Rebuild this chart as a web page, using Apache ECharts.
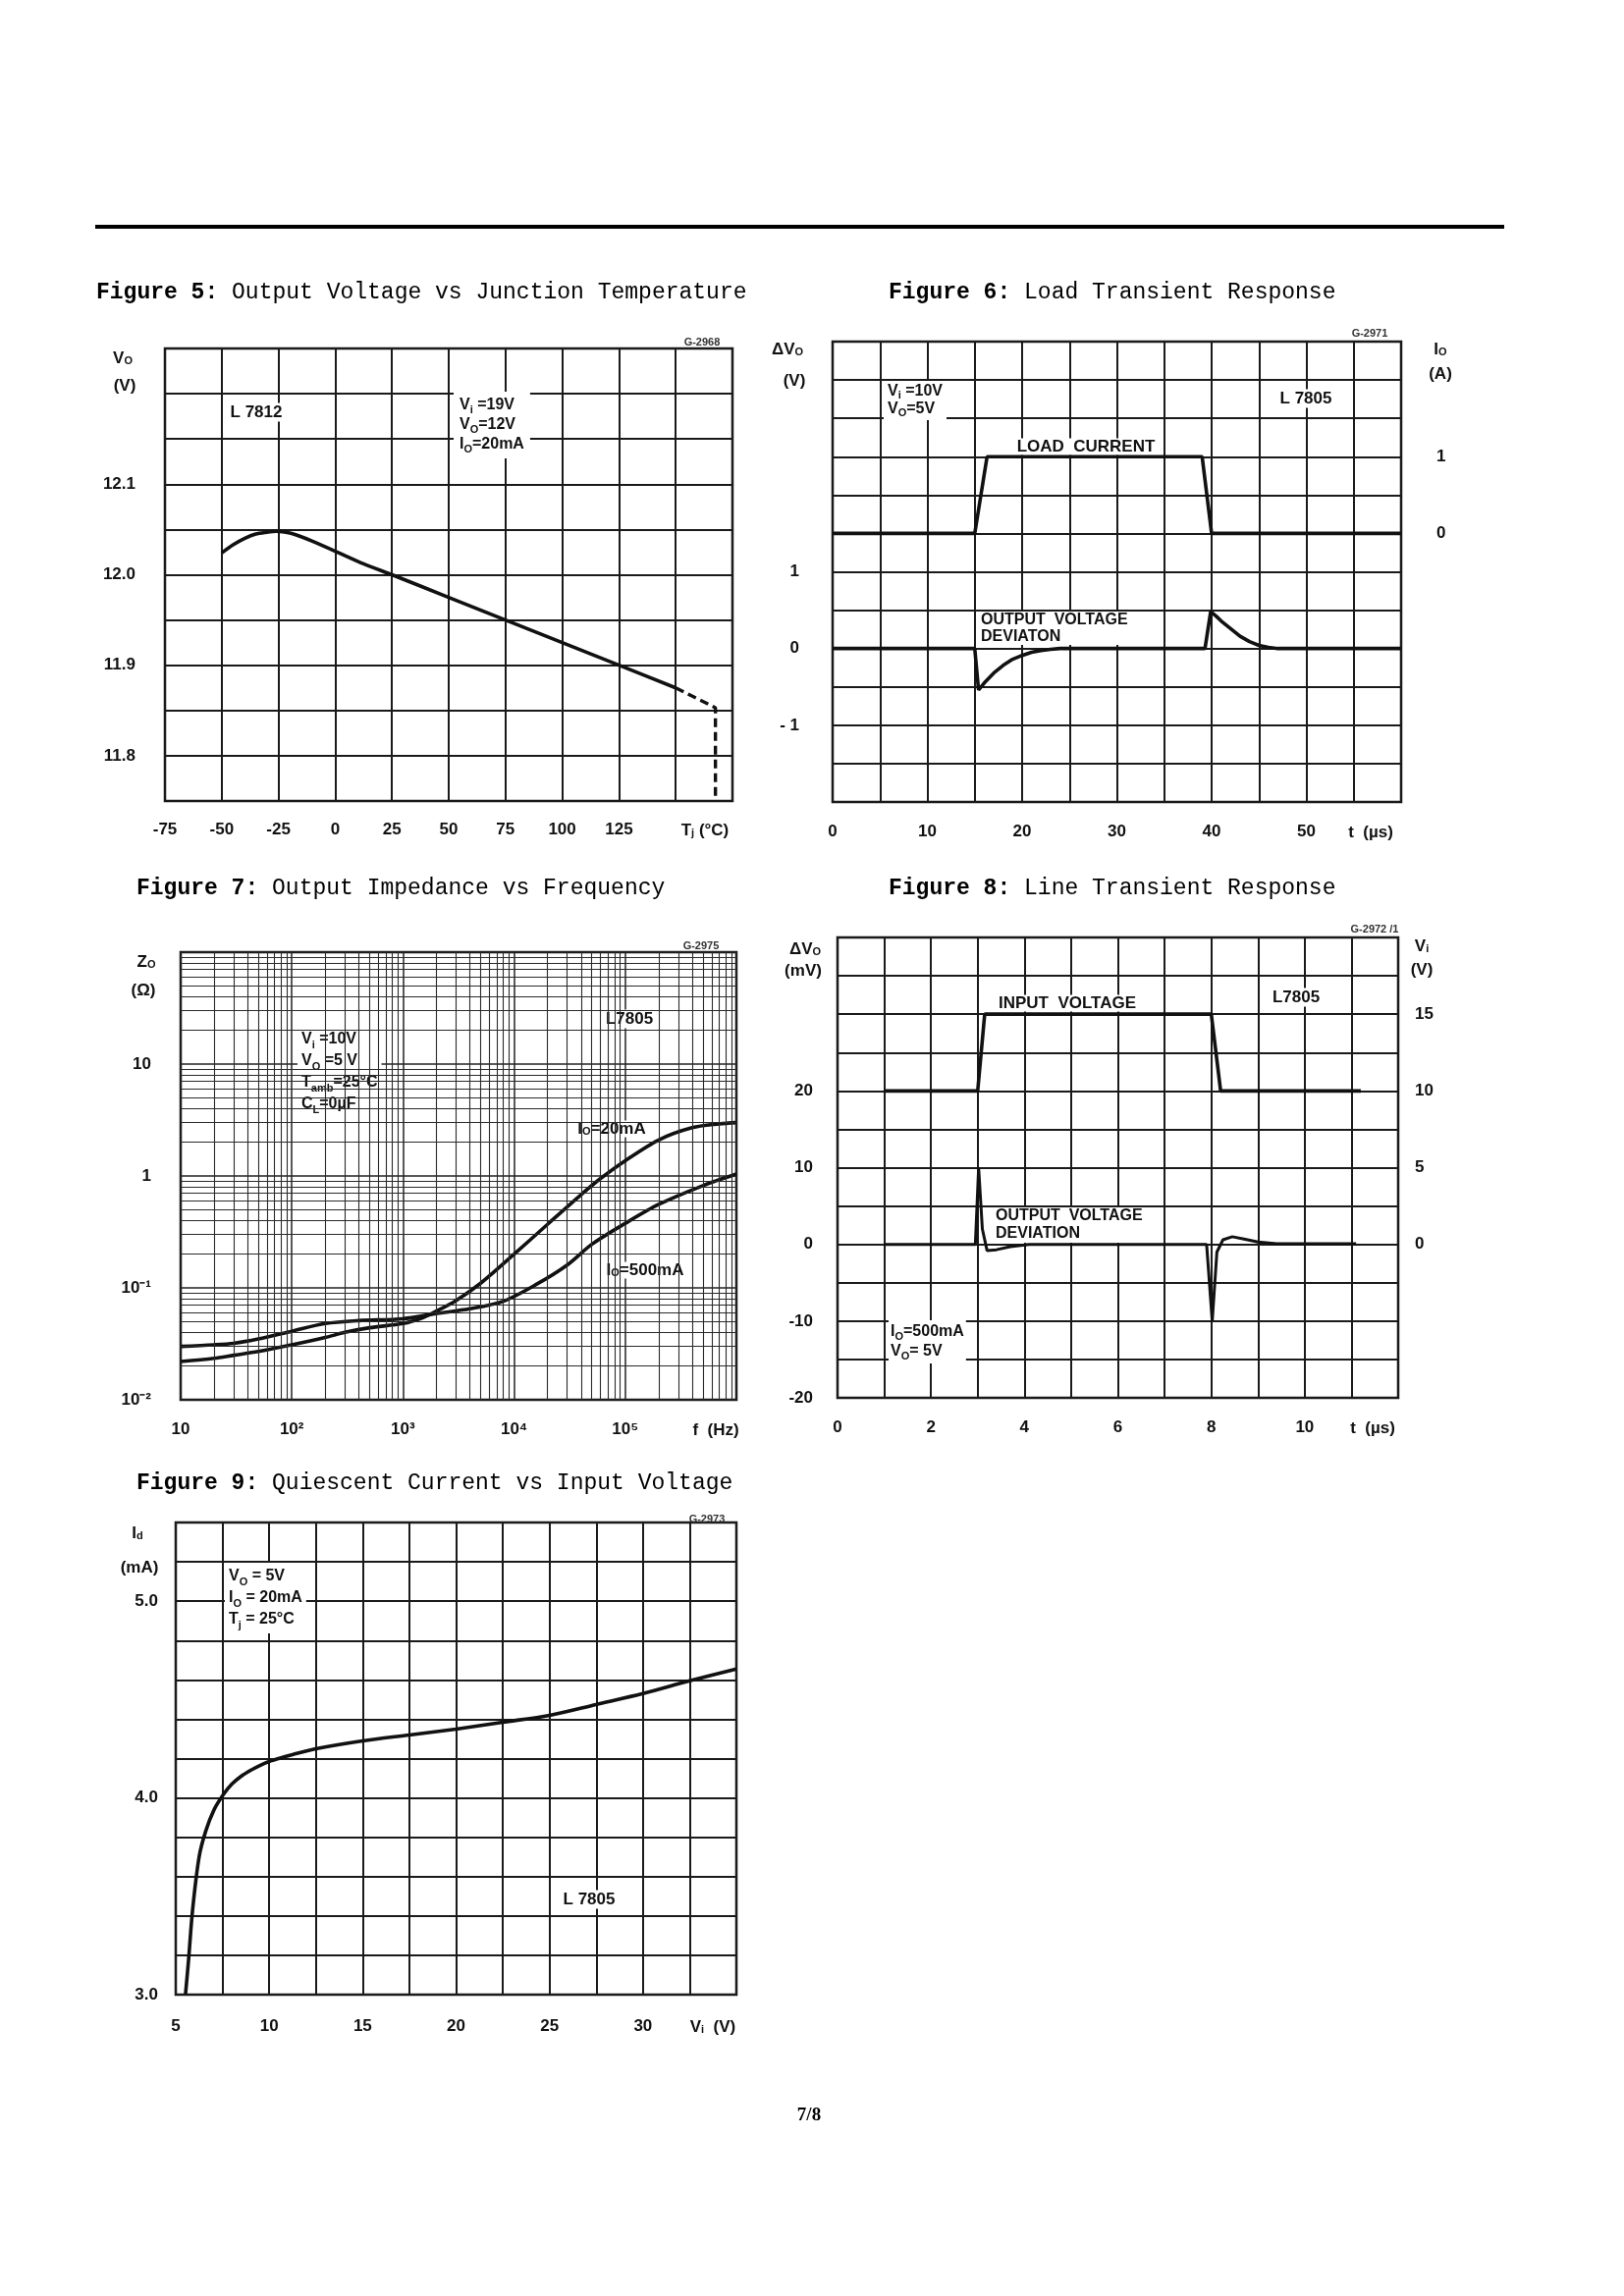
<!DOCTYPE html>
<html><head><meta charset="utf-8">
<script src="https://cdn.jsdelivr.net/npm/echarts@6/dist/echarts.min.js"></script>
<style>html,body{margin:0;padding:0;background:#fff}#c{width:1654px;height:2339px}</style>
</head><body><div id="c"></div>
<script>
// ---------- DATA ----------
// Figure 5: Output Voltage vs Junction Temperature (L7812)
const fig5Temp = [-50, -45, -40, -35, -30, -26, -20, -15, -10, 0, 12.5, 25, 50, 75, 100, 125, 150];
const fig5Vout = [12.024, 12.033, 12.040, 12.045, 12.047, 12.048, 12.046, 12.042, 12.037, 12.026, 12.012, 12.000, 11.975, 11.950, 11.925, 11.900, 11.875];
const fig5DashTemp = [150, 167.5, 167.5];
const fig5DashVout = [11.875, 11.853, 11.75];

// Figure 6: Load Transient Response (L7805)
const fig6CurTime = [0, 15, 16.3, 39, 40, 60];
const fig6Current = [0, 0, 1, 1, 0, 0];
const fig6DevTime = [0, 15, 15.4, 16, 17, 18, 19, 20, 21, 22, 23, 24, 39.3, 39.9, 40.5, 41, 42, 43, 44, 45, 46, 47, 60];
const fig6Dev = [0, 0, -0.54, -0.45, -0.32, -0.22, -0.14, -0.09, -0.05, -0.025, -0.01, 0, 0, 0.48, 0.42, 0.36, 0.26, 0.16, 0.09, 0.04, 0.015, 0, 0];

// Figure 7: Output Impedance vs Frequency
const fig7FreqA = [10, 20, 30, 50, 100, 200, 300, 500, 1000, 1500, 2000, 3000, 5000, 10000, 20000, 40000, 60000, 100000, 200000, 400000, 700000, 1000000];
const fig7Z20mA = [0.022, 0.0235, 0.025, 0.027, 0.031, 0.036, 0.040, 0.044, 0.048, 0.054, 0.062, 0.077, 0.11, 0.20, 0.37, 0.68, 0.95, 1.37, 2.1, 2.7, 2.92, 3.0];
const fig7FreqB = [10, 20, 30, 50, 100, 200, 400, 1000, 2000, 4000, 8000, 16000, 30000, 50000, 100000, 200000, 500000, 1000000];
const fig7Z500mA = [0.030, 0.031, 0.032, 0.035, 0.041, 0.048, 0.051, 0.053, 0.059, 0.065, 0.076, 0.108, 0.16, 0.245, 0.377, 0.557, 0.82, 1.04];

// Figure 8: Line Transient Response (L7805)
const fig8InTime = [1, 3, 3.15, 8, 8.2, 11.2];
const fig8InVolt = [10, 10, 15, 15, 10, 10];
const fig8DevTime = [1, 2.95, 3.02, 3.1, 3.2, 3.4, 3.7, 4.1, 7.9, 8.02, 8.12, 8.25, 8.45, 8.7, 9, 9.4, 11.1];
const fig8Dev = [0, 0, 10, 2, -0.8, -0.7, -0.3, 0, 0, -10, -1, 0.6, 1.0, 0.7, 0.3, 0.1, 0.1];

// Figure 9: Quiescent Current vs Input Voltage (L7805)
const fig9Vin = [5.52, 5.68, 5.9, 6.25, 6.6, 7.05, 7.57, 8.0, 8.5, 9.0, 9.5, 10, 10.5, 11.25, 12.5, 15, 17.5, 20, 22.5, 25, 27.5, 30, 32.5, 35];
const fig9Id = [3.0, 3.17, 3.43, 3.70, 3.83, 3.94, 4.02, 4.07, 4.11, 4.14, 4.165, 4.185, 4.20, 4.22, 4.25, 4.29, 4.32, 4.35, 4.385, 4.42, 4.475, 4.53, 4.595, 4.655];

// ---------- CHART ----------
const pairs = (xs, ys) => xs.map((x, i) => [x, ys[i]]);
const INK = '#111';
const LAB = 'bold 17px "Liberation Sans"';
const LAB16 = 'bold 16px "Liberation Sans"';
const SUB = 'bold 11px "Liberation Sans"';
const SMALL = 'bold 11px "Liberation Sans"';
const TITLE = 'normal 23px "Liberation Mono"';
const TITLEB = 'bold 23px "Liberation Mono"';

function tx(x, y, text, o) {
  return {
    type: 'text', x: x, y: y, z: 2, silent: true,
    style: Object.assign({
      text: text, font: LAB, fill: INK, align: 'center', verticalAlign: 'middle',
      rich: { s: { font: SUB, fill: INK, verticalAlign: 'bottom' } }
    }, o || {})
  };
}
function box(x, y, text, o) {
  return tx(x, y, text, Object.assign({ backgroundColor: '#fff', padding: [1, 3] }, o || {}));
}
function title(x, y, num, rest) {
  return {
    type: 'text', x: x, y: y, z: 2, silent: true,
    style: { text: '{b|Figure ' + num + ':} ' + rest, font: TITLE, fill: '#000', align: 'left', verticalAlign: 'middle',
      rich: { b: { font: TITLEB, fill: '#000' } } }
  };
}

const splitStyle = { show: true, lineStyle: { color: '#1a1a1a', width: 2 } };
function lab(margin, fmt) {
  return { color: INK, fontSize: 17, fontWeight: 'bold', fontFamily: 'Liberation Sans', margin: margin, formatter: fmt };
}
const noLine = { show: false };
const sup = { '-2': '10⁻²', '-1': '10⁻¹', '0': '1', '1': '10', '2': '10²', '3': '10³', '4': '10⁴', '5': '10⁵' };

const gridBase = { show: true, borderColor: INK, borderWidth: 2.5, backgroundColor: 'transparent' };

// log grid lines for figure 7 (minor lines inside each decade)
const minorMarks = [];
[10, 100, 1e3, 1e4, 1e5].forEach(d => { for (let m = 2; m <= 9; m++) minorMarks.push({ xAxis: d * m }); });
[0.01, 0.1, 1, 10].forEach(d => { for (let m = 2; m <= 9; m++) minorMarks.push({ yAxis: d * m }); });

const lineSeries = (xi, yi, data, extra) => Object.assign({
  type: 'line', xAxisIndex: xi, yAxisIndex: yi, data: data, showSymbol: false, symbol: 'none', z: 3,
  lineStyle: { color: INK, width: 3.6 }, animation: false, silent: true
}, extra || {});

const option = {
  backgroundColor: '#fff',
  animation: false,
  textStyle: { fontFamily: 'Liberation Sans' },
  grid: [
    Object.assign({ left: 168, top: 355, width: 578, height: 461 }, gridBase),
    Object.assign({ left: 848, top: 348, width: 579, height: 469 }, gridBase),
    Object.assign({ left: 184, top: 970, width: 566, height: 456 }, gridBase),
    Object.assign({ left: 853, top: 955, width: 571, height: 469 }, gridBase),
    Object.assign({ left: 179, top: 1551, width: 571, height: 481 }, gridBase)
  ],
  xAxis: [
    { gridIndex: 0, type: 'value', min: -75, max: 175, interval: 25, axisLine: noLine, axisTick: noLine, splitLine: splitStyle,
      axisLabel: lab(21, v => (v <= 125 ? String(v) : '')) },
    { gridIndex: 1, type: 'value', min: 0, max: 60, interval: 5, axisLine: noLine, axisTick: noLine, splitLine: splitStyle,
      axisLabel: lab(22, v => (v % 10 === 0 && v <= 50 ? String(v) : '')) },
    { gridIndex: 2, type: 'log', logBase: 10, min: 10, max: 1000000, axisLine: noLine, axisTick: noLine,
      splitLine: { show: true, lineStyle: { color: '#222', width: 1.5 } }, minorSplitLine: { show: false },
      axisLabel: lab(22, v => { const e = Math.round(Math.log10(v)); return e >= 6 ? '' : (sup[String(e)] || ''); }) },
    { gridIndex: 3, type: 'value', min: 0, max: 12, interval: 1, axisLine: noLine, axisTick: noLine, splitLine: splitStyle,
      axisLabel: lab(22, v => (v % 2 === 0 && v <= 10 ? String(v) : '')) },
    { gridIndex: 4, type: 'value', min: 5, max: 35, interval: 2.5, axisLine: noLine, axisTick: noLine, splitLine: splitStyle,
      axisLabel: lab(24, v => (Math.abs(v % 5) < 1e-9 && v <= 30 ? String(v) : '')) }
  ],
  yAxis: [
    { gridIndex: 0, type: 'value', min: 11.75, max: 12.25, interval: 0.05, axisLine: noLine, axisTick: noLine, splitLine: splitStyle,
      axisLabel: lab(30, v => { const r = Math.round(v * 100) / 100; const t = Math.round(r * 10);
        return (Math.abs(r * 10 - t) < 1e-6 && r > 11.79 && r < 12.11) ? r.toFixed(1) : ''; }) },
    { gridIndex: 1, type: 'value', min: -2, max: 4, interval: 0.5, axisLine: noLine, axisTick: noLine, splitLine: splitStyle,
      axisLabel: lab(34, v => (v === 1 ? '1' : v === 0 ? '0' : v === -1 ? '- 1' : '')) },
    { gridIndex: 1, type: 'value', position: 'right', min: -3.5, max: 2.5, interval: 0.5, axisLine: noLine, axisTick: noLine, splitLine: { show: false },
      axisLabel: lab(36, v => (v === 0 ? '0' : v === 1 ? '1' : '')) },
    { gridIndex: 2, type: 'log', logBase: 10, min: 0.01, max: 100, axisLine: noLine, axisTick: noLine,
      splitLine: { show: true, lineStyle: { color: '#222', width: 1.5 } }, minorSplitLine: { show: false },
      axisLabel: lab(30, v => { const e = Math.round(Math.log10(v)); return e >= 2 ? '' : (sup[String(e)] || ''); }) },
    { gridIndex: 3, type: 'value', min: -20, max: 40, interval: 5, axisLine: noLine, axisTick: noLine, splitLine: splitStyle,
      axisLabel: lab(25, v => (v % 10 === 0 && v <= 20 ? String(v) : '')) },
    { gridIndex: 3, type: 'value', position: 'right', min: -10, max: 20, interval: 2.5, axisLine: noLine, axisTick: noLine, splitLine: { show: false },
      axisLabel: lab(17, v => (Math.abs(v % 5) < 1e-9 && v >= 0 && v <= 15 ? String(v) : '')) },
    { gridIndex: 4, type: 'value', min: 3, max: 5.4, interval: 0.2, axisLine: noLine, axisTick: noLine, splitLine: splitStyle,
      axisLabel: lab(18, v => { const r = Math.round(v * 10) / 10; return (Math.abs(r - Math.round(r)) < 1e-6 && r <= 5) ? r.toFixed(1) : ''; }) }
  ],
  series: [
    lineSeries(0, 0, pairs(fig5Temp, fig5Vout), { smooth: 0.3 }),
    lineSeries(0, 0, pairs(fig5DashTemp, fig5DashVout), { lineStyle: { color: INK, width: 3.4, type: [9, 5] } }),
    lineSeries(1, 2, pairs(fig6CurTime, fig6Current)),
    lineSeries(1, 1, pairs(fig6DevTime, fig6Dev)),
    { type: 'line', xAxisIndex: 2, yAxisIndex: 3, data: [[10, 0.01]], showSymbol: false, symbol: 'none', z: 1, silent: true,
      lineStyle: { opacity: 0 }, animation: false,
      markLine: { silent: true, symbol: 'none', animation: false, label: { show: false },
        lineStyle: { color: '#2a2a2a', width: 1.1, type: 'solid' }, emphasis: { disabled: true }, data: minorMarks } },
    lineSeries(2, 3, pairs(fig7FreqA, fig7Z20mA), { smooth: 0.3 }),
    lineSeries(2, 3, pairs(fig7FreqB, fig7Z500mA), { smooth: 0.3 }),
    lineSeries(3, 5, pairs(fig8InTime, fig8InVolt)),
    lineSeries(3, 4, pairs(fig8DevTime, fig8Dev), { lineStyle: { color: INK, width: 3 } }),
    lineSeries(4, 6, pairs(fig9Vin, fig9Id), { smooth: 0.3 })
  ],
  graphic: [
    { type: 'rect', shape: { x: 97, y: 229, width: 1435, height: 4 }, style: { fill: '#000' }, silent: true },
    title(98, 298, '5', 'Output Voltage vs Junction Temperature'),
    title(905, 298, '6', 'Load Transient Response'),
    title(139, 905, '7', 'Output Impedance vs Frequency'),
    title(905, 905, '8', 'Line Transient Response'),
    title(139, 1511, '9', 'Quiescent Current vs Input Voltage'),
    { type: 'text', x: 824, y: 2155, silent: true, style: { text: '7/8', font: 'bold 19px "Liberation Serif"', fill: '#000', align: 'center', verticalAlign: 'middle' } },

    // Figure 5 annotations
    tx(125, 365, 'V{s|O}'), tx(127, 393, '(V)'),
    box(261, 420, 'L 7812'),
    box(462, 433, 'V{s|i} =19V\nV{s|O}=12V\nI{s|O}=20mA', { align: 'left', font: LAB16, lineHeight: 20, padding: [4, 6] }),
    tx(715, 349, 'G-2968', { font: SMALL, fill: '#333' }),
    tx(718, 846, 'T{s|j} (°C)'),

    // Figure 6 annotations
    tx(802, 356, 'ΔV{s|O}'), tx(809, 388, '(V)'),
    tx(1467, 356, 'I{s|O}'), tx(1467, 381, '(A)'),
    box(900, 408, 'V{s|i} =10V\nV{s|O}=5V', { align: 'left', font: LAB16, lineHeight: 18, padding: [2, 4] }),
    box(1330, 406, 'L 7805'),
    box(1106, 455, 'LOAD  CURRENT', { padding: [0, 2] }),
    box(997, 640, 'OUTPUT  VOLTAGE\nDEVIATON', { align: 'left', font: LAB16, lineHeight: 17, padding: [0, 2] }),
    tx(1395, 340, 'G-2971', { font: SMALL, fill: '#333' }),
    tx(1396, 848, 't  (µs)'),

    // Figure 7 annotations
    tx(149, 980, 'Z{s|O}'), tx(146, 1009, '(Ω)'),
    box(641, 1038, 'L7805'),
    box(303, 1092, 'V{s|i} =10V\nV{s|O} =5 V\nT{s|amb}=25°C\nC{s|L}=0µF', { align: 'left', font: LAB16, lineHeight: 22, padding: [4, 4] }),
    box(623, 1150, 'I{s|O}=20mA', { padding: [0, 2] }),
    box(657, 1294, 'I{s|O}=500mA', { padding: [0, 2] }),
    tx(714, 964, 'G-2975', { font: SMALL, fill: '#333' }),
    tx(729, 1457, 'f  (Hz)'),

    // Figure 8 annotations
    tx(820, 967, 'ΔV{s|O}'), tx(818, 989, '(mV)'),
    tx(1448, 964, 'V{s|i}'), tx(1448, 988, '(V)'),
    box(1087, 1022, 'INPUT  VOLTAGE', { padding: [0, 2] }),
    box(1320, 1016, 'L7805'),
    box(1012, 1248, 'OUTPUT  VOLTAGE\nDEVIATION', { align: 'left', font: LAB16, lineHeight: 18, padding: [0, 2] }),
    box(905, 1367, 'I{s|O}=500mA\nV{s|O}= 5V', { align: 'left', font: LAB16, lineHeight: 20, padding: [2, 2] }),
    tx(1400, 947, 'G-2972 /1', { font: SMALL, fill: '#333' }),
    tx(1398, 1455, 't  (µs)'),

    // Figure 9 annotations
    tx(140, 1562, 'I{s|d}'), tx(142, 1597, '(mA)'),
    box(229, 1628, 'V{s|O} = 5V\nI{s|O} = 20mA\nT{s|j} = 25°C', { align: 'left', font: LAB16, lineHeight: 22, padding: [3, 4] }),
    box(600, 1935, 'L 7805'),
    tx(720, 1548, 'G-2973', { font: SMALL, fill: '#333' }),
    tx(726, 2065, 'V{s|i}  (V)')
  ]
};

const chart = echarts.init(document.getElementById('c'), null, { renderer: 'canvas', width: 1654, height: 2339 });
chart.setOption(option);
</script>
</body></html>
